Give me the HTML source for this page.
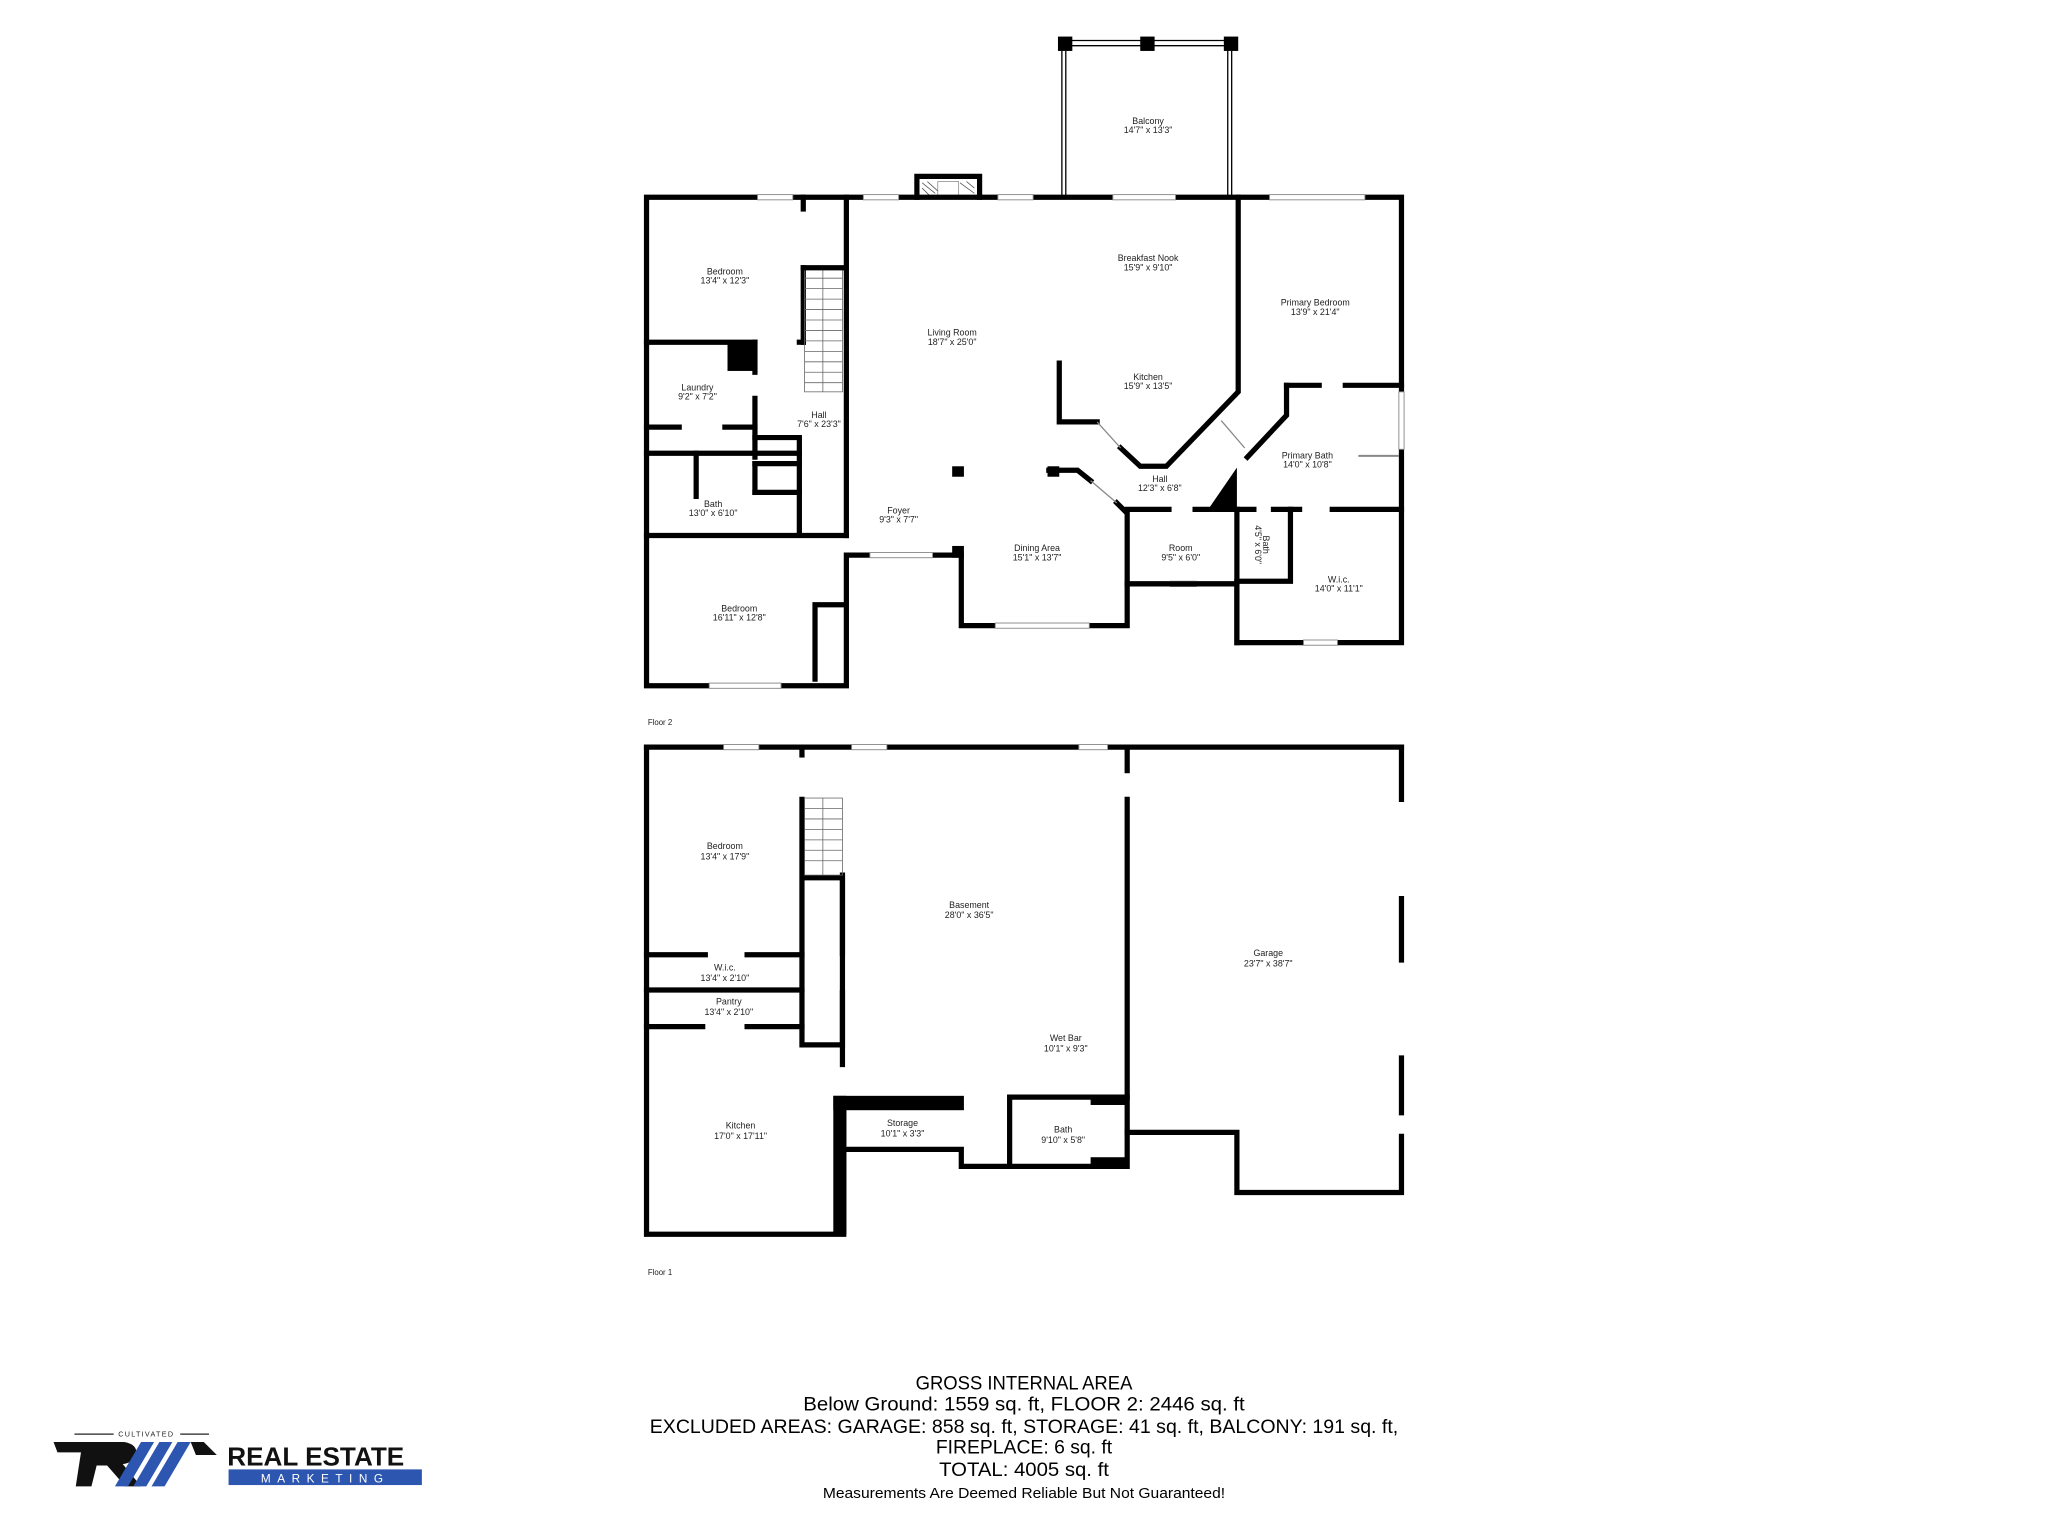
<!DOCTYPE html>
<html><head><meta charset="utf-8"><style>
html,body{margin:0;padding:0;background:#fff;}
svg{display:block;}
.w{fill:none;stroke:#000;stroke-width:4;stroke-linecap:square;stroke-linejoin:miter;}
.t{stroke:#000;stroke-width:1;fill:none;}
.win{fill:#fff;stroke:#888;stroke-width:0.7;}
text{font-family:"Liberation Sans",sans-serif;fill:#222;}
.l{font-size:6.8px;text-anchor:middle;}
.b{font-size:15px;text-anchor:middle;fill:#000;}
</style></head><body>
<svg width="2048" height="1536" viewBox="0 0 1568 1176" preserveAspectRatio="none" xmlns="http://www.w3.org/2000/svg">
<!-- Balcony -->
<line x1="813" y1="39" x2="813" y2="151" class="t"/><line x1="816" y1="39" x2="816" y2="151" class="t"/>
<line x1="940" y1="39" x2="940" y2="151" class="t"/><line x1="943" y1="39" x2="943" y2="151" class="t"/>
<line x1="816" y1="31" x2="943" y2="31" class="t"/><line x1="816" y1="35" x2="943" y2="35" class="t"/>
<rect x="810" y="28" width="11" height="11"/><rect x="873" y="28" width="11" height="11"/><rect x="937" y="28" width="11" height="11"/>
<!-- fireplace -->
<polyline class="w" points="702,151 702,135 750,135 750,151"/>
<g stroke="#555" stroke-width="0.6"><line x1="706" y1="140" x2="716" y2="148"/><line x1="706" y1="144" x2="712" y2="150"/><line x1="710" y1="139" x2="720" y2="148"/><line x1="735" y1="140" x2="746" y2="148"/><line x1="740" y1="139" x2="746" y2="144"/></g>
<rect x="718" y="139" width="16" height="12" fill="#fff" stroke="#777" stroke-width="0.5"/>

<!-- FLOOR 2 -->
<polyline class="w" points="495,151 1073,151 1073,492 947,492 947,447 863,447 863,479 736,479 736,425 648,425 648,525 495,525 495,151"/>
<rect class="win" x="580" y="149" width="27" height="4"/><rect class="win" x="661" y="149" width="27" height="4"/>
<rect class="win" x="764" y="149" width="27" height="4"/><rect class="win" x="852" y="149" width="48" height="4"/>
<rect class="win" x="972" y="149" width="73" height="4"/>
<rect class="win" x="543" y="523" width="55" height="4"/><rect class="win" x="762" y="477" width="72" height="4"/>
<rect class="win" x="666" y="423" width="48" height="4"/><rect class="win" x="998" y="490" width="26" height="4"/>
<rect class="win" x="896" y="445" width="20" height="4"/><rect class="win" x="1071" y="300" width="4" height="44"/>
<polyline class="w" points="615,151 615,160"/><polyline class="w" points="615,205 615,262"/>
<polyline class="w" points="495,262 578,262"/><polyline class="w" points="612,262 615,262"/>
<polyline class="w" points="648,151 648,410"/>
<rect x="557" y="262" width="21" height="22"/>
<polyline class="w" points="578,262 578,285"/><polyline class="w" points="578,305 578,350"/>
<polyline class="w" points="495,327 520,327"/><polyline class="w" points="555,327 578,327"/>
<polyline class="w" points="495,347 612,347"/><polyline class="w" points="533,347 533,380"/>
<polyline class="w" points="578,335 612,335 612,408"/><polyline class="w" points="578,355 612,355"/><polyline class="w" points="578,377 612,377"/><polyline class="w" points="578,355 578,377"/>
<polyline class="w" points="495,410 648,410"/>
<polyline class="w" points="624,520 624,463 645,463"/>
<g stroke="#666" stroke-width="0.6"><rect x="616" y="205" width="29" height="95" fill="none"/>
<line x1="616" y1="213" x2="645" y2="213"/><line x1="616" y1="221" x2="645" y2="221"/><line x1="616" y1="229" x2="645" y2="229"/><line x1="616" y1="237" x2="645" y2="237"/><line x1="616" y1="245" x2="645" y2="245"/><line x1="616" y1="253" x2="645" y2="253"/><line x1="616" y1="261" x2="645" y2="261"/><line x1="616" y1="269" x2="645" y2="269"/><line x1="616" y1="277" x2="645" y2="277"/><line x1="616" y1="285" x2="645" y2="285"/><line x1="616" y1="293" x2="645" y2="293"/><line x1="630" y1="205" x2="630" y2="300"/></g>
<polyline class="w" points="615,205 645,205"/>
<polyline class="w" points="811,278 811,323 840,323"/>
<polyline class="w" points="858,343 873,357 893,357 948,300 948,151"/>
<line x1="840" y1="323" x2="858" y2="343" stroke="#888" stroke-width="1"/>
<polyline class="w" points="985,295 1010,295"/><polyline class="w" points="1030,295 1073,295"/>
<polyline class="w" points="985,295 985,318 955,350"/>
<line x1="935" y1="322" x2="953" y2="343" stroke="#888" stroke-width="1"/>
<polygon points="925,390 947,358 947,390"/>
<polyline class="w" points="863,390 895,390"/><polyline class="w" points="915,390 960,390"/><polyline class="w" points="975,390 995,390"/><polyline class="w" points="1020,390 1073,390"/>
<polyline class="w" points="803,360 825,360 835,368"/><polyline class="w" points="855,385 863,393 863,447"/>
<line x1="835" y1="368" x2="855" y2="385" stroke="#888" stroke-width="1"/>
<polyline class="w" points="947,390 947,492"/><polyline class="w" points="988,390 988,445 947,445"/>
<polyline class="w" points="863,447 947,447"/>
<line x1="1040" y1="349" x2="1071" y2="349" stroke="#888" stroke-width="1.5"/>
<rect x="729" y="357" width="9" height="8"/><rect x="802" y="357" width="9" height="8"/><rect x="729" y="418" width="9" height="9"/>
<text class="l" x="879" y="95">Balcony</text><text class="l" x="879" y="102">14'7" x 13'3"</text>
<text class="l" x="555" y="210">Bedroom</text><text class="l" x="555" y="217">13'4" x 12'3"</text>
<text class="l" x="879" y="200">Breakfast Nook</text><text class="l" x="879" y="207">15'9" x 9'10"</text>
<text class="l" x="1007" y="234">Primary Bedroom</text><text class="l" x="1007" y="241">13'9" x 21'4"</text>
<text class="l" x="729" y="257">Living Room</text><text class="l" x="729" y="264">18'7" x 25'0"</text>
<text class="l" x="879" y="291">Kitchen</text><text class="l" x="879" y="298">15'9" x 13'5"</text>
<text class="l" x="534" y="299">Laundry</text><text class="l" x="534" y="306">9'2" x 7'2"</text>
<text class="l" x="627" y="320">Hall</text><text class="l" x="627" y="327">7'6" x 23'3"</text>
<text class="l" x="1001" y="351">Primary Bath</text><text class="l" x="1001" y="358">14'0" x 10'8"</text>
<text class="l" x="888" y="369">Hall</text><text class="l" x="888" y="376">12'3" x 6'8"</text>
<text class="l" x="546" y="388">Bath</text><text class="l" x="546" y="395">13'0" x 6'10"</text>
<text class="l" x="688" y="393">Foyer</text><text class="l" x="688" y="400">9'3" x 7'7"</text>
<text class="l" x="904" y="422">Room</text><text class="l" x="904" y="429">9'5" x 6'0"</text>
<text class="l" x="794" y="422">Dining Area</text><text class="l" x="794" y="429">15'1" x 13'7"</text>
<text class="l" transform="translate(967,417) rotate(90)" x="0" y="0">Bath</text><text class="l" transform="translate(961,417) rotate(90)">4'5" x 6'0"</text>
<text class="l" x="1025" y="446">W.i.c.</text><text class="l" x="1025" y="453">14'0" x 11'1"</text>
<text class="l" x="566" y="468">Bedroom</text><text class="l" x="566" y="475">16'11" x 12'8"</text>
<text x="496" y="555" style="font-size:6px">Floor 2</text>

<!-- FLOOR 1 -->
<polyline class="w" points="495,572 1073,572"/>
<polyline class="w" points="1073,572 1073,612"/><polyline class="w" points="1073,688 1073,735"/><polyline class="w" points="1073,810 1073,852"/><polyline class="w" points="1073,870 1073,913 947,913 947,867 863,867"/>
<polyline class="w" points="495,572 495,945 646,945 646,842"/>
<rect x="638" y="839" width="100" height="11"/><rect x="638" y="839" width="10" height="106"/>
<polyline class="w" points="648,880 736,880 736,893 863,893 863,612"/><polyline class="w" points="863,572 863,590"/>
<polyline class="w" points="773,893 773,840 863,840"/><rect x="835" y="839" width="28" height="7"/><rect x="835" y="886" width="28" height="7"/>
<rect class="win" x="554" y="570" width="27" height="4"/><rect class="win" x="652" y="570" width="27" height="4"/><rect class="win" x="826" y="570" width="22" height="4"/>
<polyline class="w" points="614,572 614,578"/><polyline class="w" points="614,612 614,800 645,800 645,672 614,672"/>
<polyline class="w" points="645,670 645,730"/><polyline class="w" points="645,760 645,815"/>
<polyline class="w" points="495,731 540,731"/><polyline class="w" points="572,731 614,731"/>
<polyline class="w" points="495,758 614,758"/>
<polyline class="w" points="495,786 538,786"/><polyline class="w" points="572,786 614,786"/>
<g stroke="#666" stroke-width="0.6"><rect x="616" y="611" width="29" height="59" fill="none"/>
<line x1="616" y1="619" x2="645" y2="619"/><line x1="616" y1="627" x2="645" y2="627"/><line x1="616" y1="635" x2="645" y2="635"/><line x1="616" y1="643" x2="645" y2="643"/><line x1="616" y1="651" x2="645" y2="651"/><line x1="616" y1="659" x2="645" y2="659"/><line x1="630" y1="611" x2="630" y2="670"/></g>
<text class="l" x="555" y="650">Bedroom</text><text class="l" x="555" y="658">13'4" x 17'9"</text>
<text class="l" x="742" y="695">Basement</text><text class="l" x="742" y="703">28'0" x 36'5"</text>
<text class="l" x="971" y="732">Garage</text><text class="l" x="971" y="740">23'7" x 38'7"</text>
<text class="l" x="555" y="743">W.i.c.</text><text class="l" x="555" y="751">13'4" x 2'10"</text>
<text class="l" x="558" y="769">Pantry</text><text class="l" x="558" y="777">13'4" x 2'10"</text>
<text class="l" x="816" y="797">Wet Bar</text><text class="l" x="816" y="805">10'1" x 9'3"</text>
<text class="l" x="691" y="862">Storage</text><text class="l" x="691" y="870">10'1" x 3'3"</text>
<text class="l" x="814" y="867">Bath</text><text class="l" x="814" y="875">9'10" x 5'8"</text>
<text class="l" x="567" y="864">Kitchen</text><text class="l" x="567" y="872">17'0" x 17'11"</text>
<text x="496" y="976" style="font-size:6px">Floor 1</text>

<!-- summary -->
<text class="b" x="784" y="1064" textLength="166" lengthAdjust="spacingAndGlyphs">GROSS INTERNAL AREA</text>
<text class="b" x="784" y="1080" textLength="338" lengthAdjust="spacingAndGlyphs">Below Ground: 1559 sq. ft, FLOOR 2: 2446 sq. ft</text>
<text class="b" x="784" y="1097" textLength="573" lengthAdjust="spacingAndGlyphs">EXCLUDED AREAS: GARAGE: 858 sq. ft, STORAGE: 41 sq. ft, BALCONY: 191 sq. ft,</text>
<text class="b" x="784" y="1113" textLength="135" lengthAdjust="spacingAndGlyphs">FIREPLACE: 6 sq. ft</text>
<text class="b" x="784" y="1130" textLength="130" lengthAdjust="spacingAndGlyphs">TOTAL: 4005 sq. ft</text>
<text class="b" x="784" y="1147" style="font-size:11px" textLength="308" lengthAdjust="spacingAndGlyphs">Measurements Are Deemed Reliable But Not Guaranteed!</text>

<!-- logo -->
<line x1="57" y1="1098" x2="87" y2="1098" stroke="#222" stroke-width="1"/><line x1="138" y1="1098" x2="160" y2="1098" stroke="#222" stroke-width="1"/>
<text x="112" y="1100" style="font-size:5.5px;text-anchor:middle;letter-spacing:1px">CULTIVATED</text>
<path d="M41,1104 L95,1104 Q106,1106 104,1114 Q102,1120 94,1121 L108,1138 L96,1138 L82,1122 L74,1122 L70,1138 L58,1138 L62,1112 L44,1112 Z" fill="#111"/>
<polygon points="108,1104 118,1104 98,1138 88,1138" fill="#2c56b0"/>
<polygon points="122,1104 132,1104 112,1138 102,1138" fill="#2c56b0"/>
<polygon points="136,1104 146,1104 126,1138 116,1138" fill="#2c56b0"/>
<polygon points="146,1104 156,1104 166,1114 150,1114" fill="#111"/>
<text x="174" y="1122" style="font-size:20px;font-weight:bold;fill:#111">REAL ESTATE</text>
<rect x="175" y="1125" width="148" height="12" fill="#2c56b0"/>
<text x="249" y="1135" style="font-size:9px;fill:#fff;text-anchor:middle;letter-spacing:5px">MARKETING</text>
</svg>
</body></html>
